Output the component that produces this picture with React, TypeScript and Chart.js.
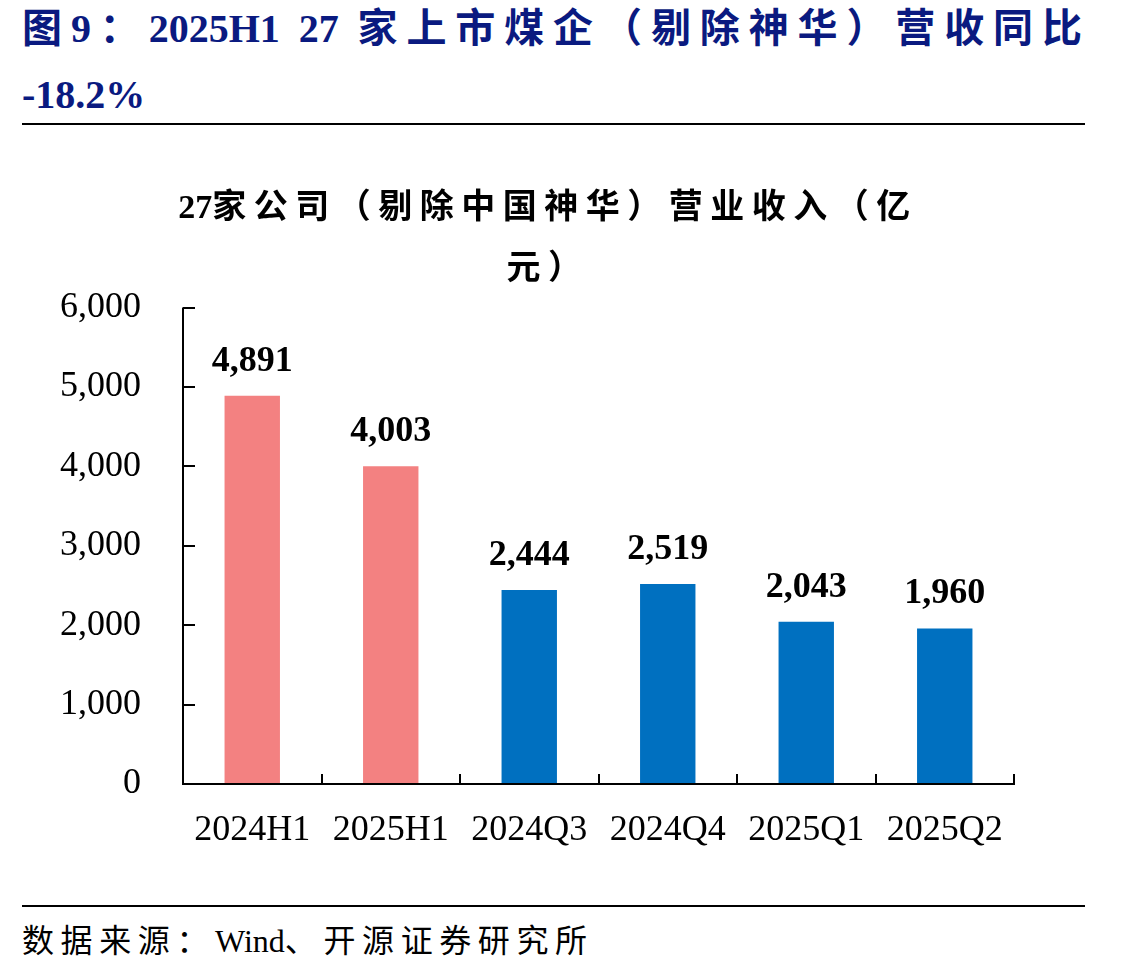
import React, { useEffect, useRef } from "react";
import { Chart, registerables } from "chart.js";

Chart.register(...registerables);

// Revenue of 27 listed coal companies (excluding China Shenhua), 100 million yuan
const categories = ["2024H1", "2025H1", "2024Q3", "2024Q4", "2025Q1", "2025Q2"];
const revenue = [4891, 4003, 2444, 2519, 2043, 1960];
const barColors = ["#F38181", "#F38181", "#0070C0", "#0070C0", "#0070C0", "#0070C0"];
const yMin = 0;
const yMax = 6000;
const yStep = 1000;

const SERIF = '"Liberation Serif", "Times New Roman", "Noto Sans CJK SC", serif';
const fmt = (v: number) => v.toLocaleString("en-US");

const CANVAS_W = 1137;
const CANVAS_H = 648;

const axisPlugin = {
  id: "boxAxes",
  afterDraw(chart: any) {
    const { ctx, chartArea } = chart;
    const { left, right, bottom, top } = chartArea;
    const x = chart.scales.x;
    const y = chart.scales.y;
    ctx.save();
    ctx.strokeStyle = "#000";
    ctx.lineWidth = 2;
    ctx.beginPath();
    // vertical axis with inward ticks
    ctx.moveTo(left, top);
    ctx.lineTo(left, bottom + 1);
    y.ticks.forEach((t: any) => {
      const py = Math.round(y.getPixelForValue(t.value));
      ctx.moveTo(left, py);
      ctx.lineTo(left + 12, py);
    });
    // horizontal axis with upward ticks between categories
    ctx.moveTo(left - 1, bottom);
    ctx.lineTo(right + 1, bottom);
    const n = categories.length;
    for (let i = 1; i <= n; i++) {
      const px =
        i === n
          ? right
          : Math.round((x.getPixelForValue(i - 1) + x.getPixelForValue(i)) / 2);
      ctx.moveTo(px, bottom);
      ctx.lineTo(px, bottom - 10);
    }
    ctx.stroke();
    ctx.restore();
  },
};

const valueLabelPlugin = {
  id: "valueLabels",
  afterDatasetsDraw(chart: any) {
    const { ctx } = chart;
    const meta = chart.getDatasetMeta(0);
    ctx.save();
    ctx.fillStyle = "#000";
    ctx.font = `bold 36px ${SERIF}`;
    ctx.textAlign = "center";
    ctx.textBaseline = "alphabetic";
    meta.data.forEach((bar: any, i: number) => {
      ctx.fillText(fmt(revenue[i]), bar.x, bar.y - 25);
    });
    ctx.restore();
  },
};

function RevenueChart() {
  const ref = useRef<HTMLCanvasElement | null>(null);
  useEffect(() => {
    if (!ref.current) return;
    const chart = new Chart(ref.current, {
      type: "bar",
      data: {
        labels: categories,
        datasets: [
          {
            data: revenue,
            backgroundColor: barColors,
            borderWidth: 0,
            barPercentage: 0.4,
            categoryPercentage: 1.0,
          },
        ],
      },
      options: {
        responsive: false,
        animation: false,
        layout: { padding: { top: 24, right: 123, left: 0, bottom: 0 } },
        plugins: {
          legend: { display: false },
          tooltip: { enabled: false },
          title: { display: false },
        },
        scales: {
          x: {
            grid: { display: false, drawTicks: false },
            border: { display: false },
            ticks: {
              color: "#000",
              font: { family: SERIF, size: 36 },
              padding: 25,
              maxRotation: 0,
              autoSkip: false,
            },
            afterFit: (s: any) => {
              s.height = 108;
            },
          },
          y: {
            min: yMin,
            max: yMax,
            grid: { display: false, drawTicks: false },
            border: { display: false },
            ticks: {
              stepSize: yStep,
              color: "#000",
              font: { family: SERIF, size: 36 },
              padding: 42,
              callback: (v: any) => fmt(Number(v)),
            },
            afterFit: (s: any) => {
              s.width = 183;
            },
          },
        },
      },
      plugins: [axisPlugin, valueLabelPlugin],
    });
    return () => chart.destroy();
  }, []);
  return (
    <canvas ref={ref} width={CANVAS_W} height={CANVAS_H} style={{ display: "block" }} />
  );
}

export default function App() {
  return (
    <div
      style={{
        position: "absolute",
        left: 0,
        top: 0,
        width: 1137,
        height: 974,
        background: "#fff",
        overflow: "hidden",
        fontFamily: SERIF,
      }}
    >
      <div
        style={{
          position: "absolute",
          left: 22,
          top: -4,
          width: 1060,
          fontSize: 40,
          fontWeight: "bold",
          color: "#0A1A80",
          lineHeight: "66px",
        }}
      >
        <div style={{ textAlign: "justify", textAlignLast: "justify", whiteSpace: "nowrap" }}>
          图9：2025H1 27 家上市煤企（剔除神华）营收同比
        </div>
        <div>-18.2%</div>
      </div>
      <div
        style={{
          position: "absolute",
          left: 22,
          top: 123,
          width: 1063,
          height: 2,
          background: "#000",
        }}
      />
      <div style={{ position: "absolute", left: 0, top: 244 }}>
        <RevenueChart />
      </div>
      <div
        style={{
          position: "absolute",
          left: 0,
          top: 176,
          width: 1096,
          textAlign: "center",
          fontSize: 34,
          fontWeight: "bold",
          letterSpacing: 7.5,
          lineHeight: "61px",
          color: "#000",
          pointerEvents: "none",
        }}
      >
        <div>
          <span style={{ letterSpacing: 0 }}>27</span>家公司（剔除中国神华）营业收入（亿
        </div>
        <div>元）</div>
      </div>
      <div
        style={{
          position: "absolute",
          left: 22,
          top: 905,
          width: 1063,
          height: 2,
          background: "#000",
        }}
      />
      <div
        style={{
          position: "absolute",
          left: 22,
          top: 918,
          fontSize: 32,
          letterSpacing: 6.6,
          lineHeight: "46px",
          color: "#000",
          whiteSpace: "nowrap",
        }}
      >
        数据来源：<span style={{ letterSpacing: 0 }}>Wind</span>、开源证券研究所
      </div>
    </div>
  );
}
